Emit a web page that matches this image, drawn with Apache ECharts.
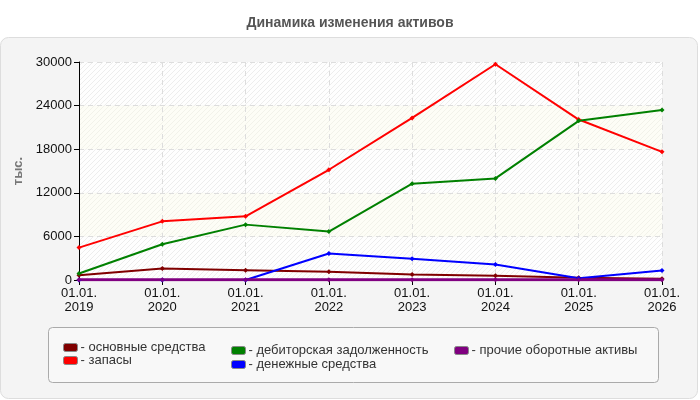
<!DOCTYPE html>
<html><head><meta charset="utf-8">
<script src="https://cdn.jsdelivr.net/npm/echarts@6/dist/echarts.min.js"></script>
<style>html,body{margin:0;padding:0;background:#fff}#c{width:700px;height:400px}</style>
</head><body><div id="c"></div>
<script>
var categories = ['01.01.\n2019','01.01.\n2020','01.01.\n2021','01.01.\n2022','01.01.\n2023','01.01.\n2024','01.01.\n2025','01.01.\n2026'];
var seriesNames = ['основные средства','запасы','дебиторская задолженность','денежные средства','прочие оборотные активы'];
var seriesColors = ['#800000','#ff0000','#008000','#0000ff','#800080'];
var osnovnye = [660, 1580, 1350, 1120, 760, 570, 300, 160];
var zapasy = [4460, 8070, 8760, 15170, 22300, 29690, 22080, 17640];
var debitorka = [890, 4920, 7620, 6660, 13250, 13980, 21900, 23410];
var denezhnye = [0, 0, 0, 3640, 2910, 2130, 250, 1300];
var prochie = [20, 20, 20, 20, 20, 20, 20, 20];
var yTicks = {min: 0, max: 30000, interval: 6000};

function hatch(bg, fg){
  var c = document.createElement('canvas'); c.width = 5; c.height = 5;
  var g = c.getContext('2d');
  g.fillStyle = bg; g.fillRect(0,0,5,5);
  g.strokeStyle = fg; g.lineWidth = 1;
  g.beginPath(); g.moveTo(0,5); g.lineTo(5,0); g.moveTo(-1,1); g.lineTo(1,-1); g.moveTo(4,6); g.lineTo(6,4); g.stroke();
  return {image: c, repeat: 'repeat'};
}
var allData = [osnovnye, zapasy, debitorka, denezhnye, prochie];
var chart = echarts.init(document.getElementById('c'), null, {renderer: 'canvas'});
var font = 'Liberation Sans, Arial, sans-serif';
var series = seriesNames.map(function(n, i){
  return {name: n, type: 'line', data: allData[i], symbol: 'diamond', symbolSize: 5,
    lineStyle: {width: i === 4 ? 3 : 2, color: seriesColors[i]}, itemStyle: {color: seriesColors[i]}};
});
function lg(names, left, top, gap){
  return {data: names, orient: 'vertical', left: left, top: top, itemWidth: 14, itemHeight: 8, itemGap: gap,
    icon: 'roundRect', formatter: '- {name}', textStyle: {fontSize: 13, color: '#333', fontFamily: font, padding: [0,0,0,-2]},
    itemStyle: {borderColor: '#888', borderWidth: 1}, selectedMode: false};
}
chart.setOption({
  animation: false,
  backgroundColor: '#fff',
  title: {text: 'Динамика изменения активов', left: 'center', top: 11,
    textStyle: {fontSize: 14, fontWeight: 'bold', color: '#555', fontFamily: font}},
  graphic: [
    {type: 'rect', z: -10, shape: {x: 0.5, y: 37.5, width: 697, height: 361, r: 8}, style: {fill: '#f4f4f4', stroke: '#dddddd', lineWidth: 1}},
    {type: 'rect', z: -9, shape: {x: 48.5, y: 327.5, width: 610, height: 55, r: 4}, style: {fill: '#f8f8f8', stroke: '#aaaaaa', lineWidth: 1}}
  ],
  legend: [
    lg([seriesNames[0], seriesNames[1]], 58, 336, 0),
    lg([seriesNames[2], seriesNames[3]], 226, 339, 1),
    lg([seriesNames[4]], 449, 339, 1)
  ],
  grid: {left: 79, right: 38, top: 62, bottom: 120},
  xAxis: {type: 'category', data: categories, boundaryGap: false,
    axisLine: {lineStyle: {color: '#000'}}, axisTick: {alignWithLabel: true, length: 5, lineStyle: {color: '#000'}},
    axisLabel: {fontSize: 13, color: '#111', fontFamily: font, lineHeight: 14, margin: 6},
    splitLine: {show: true, lineStyle: {type: [5, 4], color: '#dddddd'}}},
  yAxis: {type: 'value', min: yTicks.min, max: yTicks.max, interval: yTicks.interval,
    name: 'тыс.', nameLocation: 'middle', nameGap: 52, nameRotate: 90,
    nameTextStyle: {fontSize: 13, fontWeight: 'bold', color: '#777', fontFamily: font},
    axisLine: {show: true, lineStyle: {color: '#000'}}, axisTick: {show: true, length: 5, lineStyle: {color: '#000'}},
    axisLabel: {fontSize: 13, color: '#111', fontFamily: font, margin: 7, formatter: function(v){ return String(v); }},
    splitLine: {show: true, lineStyle: {type: [5, 4], color: '#dddddd'}},
    splitArea: {show: true, areaStyle: {color: [hatch('#fefefe', '#ededed'), hatch('#fdfdf6', '#f2f2ea')]}}},
  series: series
});
</script></body></html>
